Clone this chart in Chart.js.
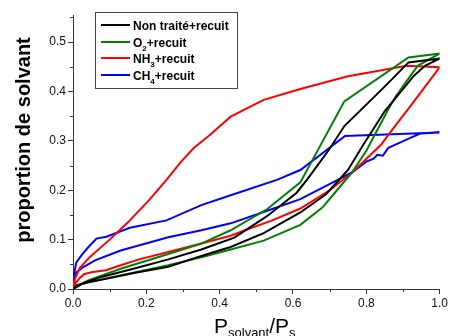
<!DOCTYPE html>
<html>
<head>
<meta charset="utf-8">
<script src="https://cdn.jsdelivr.net/npm/chart.js@4.4.1/dist/chart.umd.min.js"></script>
<style>
  html, body { margin: 0; padding: 0; background: #fff; }
  canvas { display: block; }
</style>
</head>
<body>
<canvas id="chart1" width="450" height="336"></canvas>
<script>
// each series is one hysteresis loop: adsorption up to P/Ps = 1, then desorption back
const seriesNames = ['Non traité+recuit', 'O2+recuit', 'NH3+recuit', 'CH4+recuit'];
const seriesColors = ['#000000', '#008000', '#ff0000', '#0000ff'];

const pNonTraite = [0, 0.01, 0.04, 0.08, 0.17, 0.26, 0.35, 0.43, 0.52, 0.62, 0.69, 0.75, 0.79, 0.85, 0.93, 0.96, 1.0,
                    0.915, 0.85, 0.74, 0.70, 0.64, 0.61, 0.53, 0.44, 0.35, 0.26, 0.17, 0.08, 0.03, 0];
const vNonTraite = [0, 0.007, 0.013, 0.019, 0.033, 0.045, 0.067, 0.085, 0.113, 0.155, 0.192, 0.241, 0.29, 0.36, 0.432, 0.452, 0.467,
                    0.459, 0.41, 0.33, 0.284, 0.223, 0.195, 0.148, 0.104, 0.08, 0.06, 0.042, 0.025, 0.013, 0];

const pO2 = [0, 0.01, 0.04, 0.08, 0.17, 0.26, 0.35, 0.43, 0.52, 0.62, 0.68, 0.72, 0.76, 0.80, 0.86, 0.88, 0.94, 1.0,
             0.915, 0.74, 0.62, 0.53, 0.43, 0.35, 0.26, 0.13, 0.04, 0];
const vO2 = [0, 0.008, 0.014, 0.02, 0.034, 0.048, 0.064, 0.08, 0.098, 0.13, 0.165, 0.2, 0.235, 0.28, 0.364, 0.39, 0.452, 0.477,
             0.469, 0.38, 0.216, 0.162, 0.119, 0.092, 0.071, 0.041, 0.017, 0];

const pNH3 = [0, 0.005, 0.018, 0.03, 0.05, 0.09, 0.13, 0.18, 0.26, 0.35, 0.43, 0.48, 0.54, 0.62, 0.70, 0.76, 0.84, 0.87, 0.93, 1.0,
              0.91, 0.75, 0.62, 0.52, 0.43, 0.37, 0.33, 0.295, 0.255, 0.205, 0.15, 0.10, 0.046, 0.018, 0.005, 0];
const vNH3 = [0, 0.01, 0.022, 0.03, 0.034, 0.038, 0.048, 0.06, 0.075, 0.092, 0.108, 0.122, 0.138, 0.163, 0.2, 0.235, 0.292, 0.322, 0.38, 0.449,
              0.452, 0.431, 0.405, 0.383, 0.349, 0.31, 0.286, 0.258, 0.221, 0.178, 0.135, 0.1, 0.065, 0.042, 0.02, 0];

const pCH4 = [0, 0.003, 0.01, 0.027, 0.06, 0.13, 0.26, 0.35, 0.43, 0.52, 0.62, 0.73, 0.765, 0.80, 0.82, 0.83, 0.845, 0.86, 0.89, 0.92, 0.947, 1.0,
              0.742, 0.62, 0.556, 0.43, 0.35, 0.255, 0.155, 0.091, 0.064, 0.041, 0.023, 0.009, 0.004, 0];
const vCH4 = [0, 0.02, 0.034, 0.044, 0.058, 0.078, 0.105, 0.119, 0.133, 0.156, 0.182, 0.224, 0.238, 0.258, 0.264, 0.272, 0.27, 0.286, 0.296, 0.306, 0.315, 0.317,
              0.31, 0.241, 0.221, 0.19, 0.17, 0.139, 0.124, 0.106, 0.102, 0.084, 0.068, 0.054, 0.035, 0.02];

const xTitle = [['P', 0], ['solvant', 1], ['/P', 0], ['s', 1]];
const yTitle = 'proportion de solvant';
const xMinorTicks = [0.1, 0.3, 0.5, 0.7, 0.9];
const yMinorTicks = [0.05, 0.15, 0.25, 0.35, 0.45, 0.55];

const pValues = [pNonTraite, pO2, pNH3, pCH4];
const vValues = [vNonTraite, vO2, vNH3, vCH4];

const FONT = '"Liberation Sans", Arial, sans-serif';

// splits "NH3+recuit" into text / subscript pieces
function subParts(label) {
  return label.split(/(\d+)/).filter(s => s).map(s => [s, /^\d+$/.test(s) ? 1 : 0]);
}

function drawParts(c, parts, x, y, big, small, bold, drop) {
  parts.forEach(function (p) {
    c.font = (bold ? 'bold ' : '') + (p[1] ? small : big) + 'px ' + FONT;
    c.fillText(p[0], x, y + (p[1] ? drop : 0));
    x += c.measureText(p[0]).width;
  });
}

const decorations = {
  id: 'decorations',
  afterDraw(chart) {
    const c = chart.ctx;
    const xs = chart.scales.x, ys = chart.scales.y;
    c.save();

    // short minor ticks
    c.strokeStyle = '#333';
    c.lineWidth = 1;
    c.beginPath();
    xMinorTicks.forEach(function (v) {
      const px = Math.round(xs.getPixelForValue(v)) + 0.5;
      c.moveTo(px, ys.bottom);
      c.lineTo(px, ys.bottom + 3);
    });
    yMinorTicks.forEach(function (v) {
      const py = Math.round(ys.getPixelForValue(v)) + 0.5;
      c.moveTo(xs.left, py);
      c.lineTo(xs.left - 3, py);
    });
    c.stroke();

    c.fillStyle = '#000';
    c.textBaseline = 'alphabetic';
    c.textAlign = 'left';

    // legend box inside plot
    c.strokeStyle = '#444';
    c.strokeRect(95.5, 12.5, 142, 76);
    const rows = [25, 42, 58, 75];
    seriesNames.forEach(function (name, i) {
      c.strokeStyle = seriesColors[i];
      c.lineWidth = 2;
      c.beginPath();
      c.moveTo(101, rows[i]);
      c.lineTo(130, rows[i]);
      c.stroke();
      drawParts(c, subParts(name), 133, rows[i] + 4.5, 12, 8, true, 4);
    });

    // x title
    drawParts(c, xTitle, 214, 333, 21, 13, false, 4);

    // y title
    c.translate(29.5, 140);
    c.rotate(-Math.PI / 2);
    c.textAlign = 'center';
    c.font = 'bold 20px ' + FONT;
    c.fillText(yTitle, 0, 0);
    c.restore();
  }
};

const ctx = document.getElementById('chart1').getContext('2d');
new Chart(ctx, {
  type: 'scatter',
  data: {
    datasets: seriesNames.map(function (name, i) {
      return {
        label: name,
        data: pValues[i].map((p, j) => ({ x: p, y: vValues[i][j] })),
        showLine: true,
        borderColor: seriesColors[i],
        backgroundColor: seriesColors[i],
        borderWidth: 2,
        pointRadius: 0,
        tension: 0
      };
    })
  },
  options: {
    responsive: false,
    animation: false,
    layout: { padding: { top: 15, right: 10, left: 0, bottom: 0 } },
    plugins: { legend: { display: false }, tooltip: { enabled: false } },
    scales: {
      x: {
        type: 'linear',
        min: 0,
        max: 1,
        grid: { drawOnChartArea: false, tickLength: 5, color: '#333' },
        border: { color: '#333', width: 1 },
        ticks: {
          stepSize: 0.2,
          autoSkip: false,
          maxRotation: 0,
          padding: 2,
          color: '#111',
          font: { family: FONT, size: 12 },
          callback: v => v.toFixed(1)
        },
        afterFit: s => { s.height = 47; }
      },
      y: {
        min: 0,
        max: 0.555,
        grid: { drawOnChartArea: false, tickLength: 5, color: '#333' },
        border: { color: '#333', width: 1 },
        ticks: {
          stepSize: 0.1,
          includeBounds: false,
          autoSkip: false,
          padding: 2,
          color: '#111',
          font: { family: FONT, size: 12 },
          callback: v => v.toFixed(1)
        },
        afterFit: s => { s.width = 73; }
      }
    }
  },
  plugins: [decorations]
});
</script>
</body>
</html>
